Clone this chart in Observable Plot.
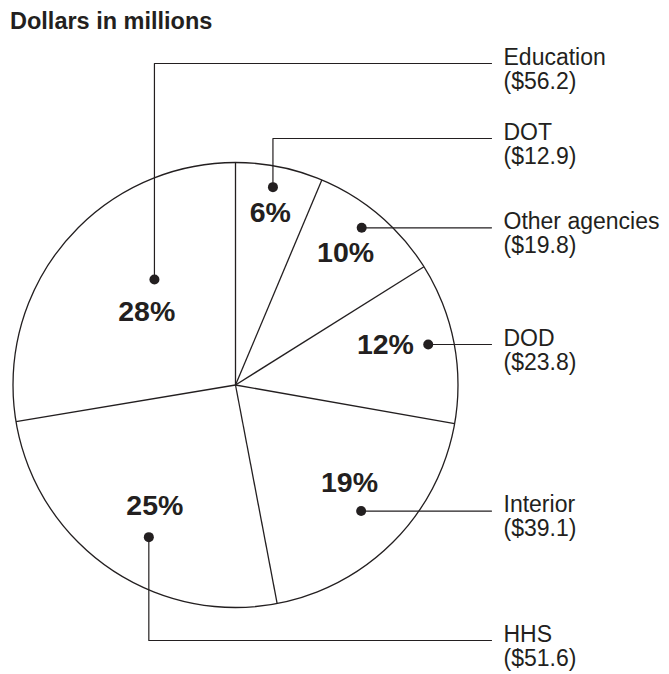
<!DOCTYPE html>
<html>
<head>
<meta charset="utf-8">
<script src="https://cdn.jsdelivr.net/npm/d3@7"></script>
<script src="https://cdn.jsdelivr.net/npm/@observablehq/plot@0.6"></script>
<style>
  html, body { margin: 0; padding: 0; background: #fff; }
  #title { font-family: "Liberation Sans", Arial, Helvetica, sans-serif; font-weight: bold; font-size: 23.5px; line-height: 26px; color: #231f20; padding: 8px 0 0 10px; height: 36px; box-sizing: content-box; }
  #chart svg { display: block; }
</style>
</head>
<body>
<div id="title">Dollars in millions</div>
<div id="chart"></div>
<script>
// Data (clockwise from 12 o'clock)
const categories = ["DOT", "Other agencies", "DOD", "Interior", "HHS", "Education"];
const values = [12.9, 19.8, 23.8, 39.1, 51.6, 56.2];
const valueLabels = ["($12.9)", "($19.8)", "($23.8)", "($39.1)", "($51.6)", "($56.2)"];

// Layout (page pixel coordinates)
const W = 669, H = 674, TOP = 44;
const cx = 235, cy = 384.5, R = 222.5;
const dotAngleOffset = [-0.7, -1.6, -0.8, 0.5, -5.2, 12.2];   // degrees from slice middle
const dotRadius = [0.905, 0.906, 0.885, 0.80, 0.787, 0.598];   // fraction of R
const pctAngleOffset = [0, -0.5, -3.8, -4.1, -1.1, -0.8];
const pctRadius = [0.79, 0.772, 0.697, 0.674, 0.652, 0.517];
const labelElbowY = [138, null, null, null, 640, 63];          // null = straight horizontal leader
const leaderEndX = 491, labelX = 503, textShift = -6, lineGap = 24;

const total = d3.sum(values);
const arcs = d3.pie().sort(null).value(d => d)(values);
const toRad = Math.PI / 180;
const polar = (a, r) => ({x: cx + r * Math.sin(a), y: cy - r * Math.cos(a)});

const slices = categories.map((c, i) => {
  const a0 = arcs[i].startAngle, a1 = arcs[i].endAngle, mid = (a0 + a1) / 2;
  const dot = polar(mid + dotAngleOffset[i] * toRad, dotRadius[i] * R);
  const pct = polar(mid + pctAngleOffset[i] * toRad, pctRadius[i] * R);
  const ly = labelElbowY[i] == null ? dot.y : labelElbowY[i];
  const edge = polar(a0, R);
  return {
    name: c, value: values[i], valueLabel: valueLabels[i],
    pctText: Math.round(values[i] / total * 100) + "%",
    dot, pct, ly, edge,
    leader: labelElbowY[i] == null
      ? [dot, {x: leaderEndX, y: dot.y}]
      : [dot, {x: dot.x, y: ly}, {x: leaderEndX, y: ly}]
  };
});

const leaderPts = slices.flatMap(s => s.leader.map(p => ({...p, name: s.name})));
const ink = "#231f20";
const font = "Liberation Sans, Arial, Helvetica, sans-serif";

const plot = Plot.plot({
  width: W, height: H - TOP,
  margin: 0,
  x: {domain: [0, W], range: [0, W], axis: null},
  y: {domain: [TOP, H], range: [0, H - TOP], axis: null},
  style: {fontFamily: font, color: ink, background: "#fff"},
  marks: [
    Plot.dot([{x: cx, y: cy}], {x: "x", y: "y", r: R, stroke: ink, strokeWidth: 1.3, fill: "white"}),
    Plot.link(slices, {x1: () => cx, y1: () => cy, x2: d => d.edge.x, y2: d => d.edge.y, stroke: ink, strokeWidth: 1.3}),
    Plot.line(leaderPts, {x: "x", y: "y", z: "name", stroke: ink, strokeWidth: 1.2}),
    Plot.dot(slices, {x: d => d.dot.x, y: d => d.dot.y, r: 5, fill: ink}),
    Plot.text(slices, {x: d => d.pct.x, y: d => d.pct.y, text: "pctText", fontSize: 28.5, fontWeight: "bold", fill: ink}),
    Plot.text(slices, {x: () => labelX, y: d => d.ly + textShift, text: "name", textAnchor: "start", fontSize: 23, fill: ink}),
    Plot.text(slices, {x: () => labelX, y: d => d.ly + textShift + lineGap, text: "valueLabel", textAnchor: "start", fontSize: 23, fill: ink})
  ]
});
document.getElementById("chart").appendChild(plot);
</script>
</body>
</html>
